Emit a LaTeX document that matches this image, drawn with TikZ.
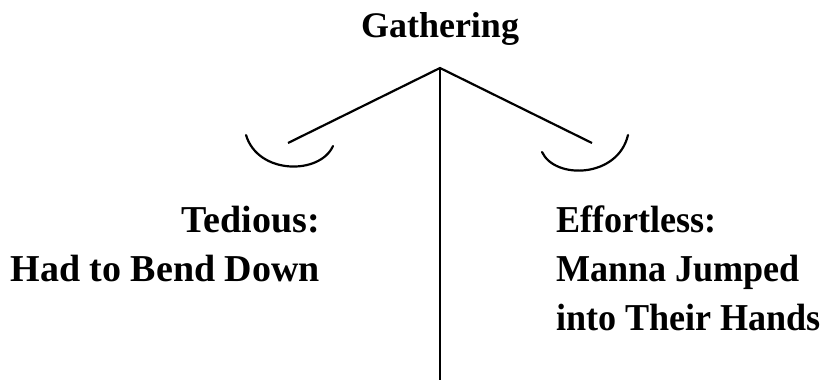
\documentclass[tikz,border=0pt]{standalone}
\usepackage{fontspec}
\setmainfont{Liberation Serif}
\usetikzlibrary{positioning}
\usetikzlibrary{calc}

\begin{document}
\begin{tikzpicture}[x=0.5pt,y=-0.5pt,line width=1.1pt,
					font=\fontsize{19}{24.5}\selectfont\bfseries]
					\tikzstyle{every node}=[inner sep=0pt]
					\tikzstyle{pan}=[line width=1.1pt,line cap=round]
					\useasboundingbox (0,0) rectangle (825,381);
					
					\coordinate (pivot) at (440,68);
					\coordinate (foot)  at (440,380);
					\coordinate (L)     at (288,143);
					\coordinate (R)     at (592,143);
					
					\node (title) [anchor=base,font=\fontsize{18}{22}\selectfont\bfseries] at (440,37) {Gathering};
					\node (tedious) [anchor=base east,align=right] at (321,281) {Tedious:\\Had to Bend Down};
					\node (effortless) [anchor=base west,align=left] at (555,330)
						{\addfontfeature{FakeStretch=0.95}Effortless:\\\addfontfeature{FakeStretch=0.95}Manna Jumped\\\addfontfeature{FakeStretch=0.95}into Their Hands};
					
					\draw (pivot) -- (foot);
					\draw (L) -- (pivot) -- (R);
					
					% pans
					\draw[pan] (246,135) .. controls (258,175) and (320,175) .. (333,146);
					\draw[pan] (542,152) .. controls (555,180) and (618,178) .. (628,135);
\end{tikzpicture}
\end{document}
